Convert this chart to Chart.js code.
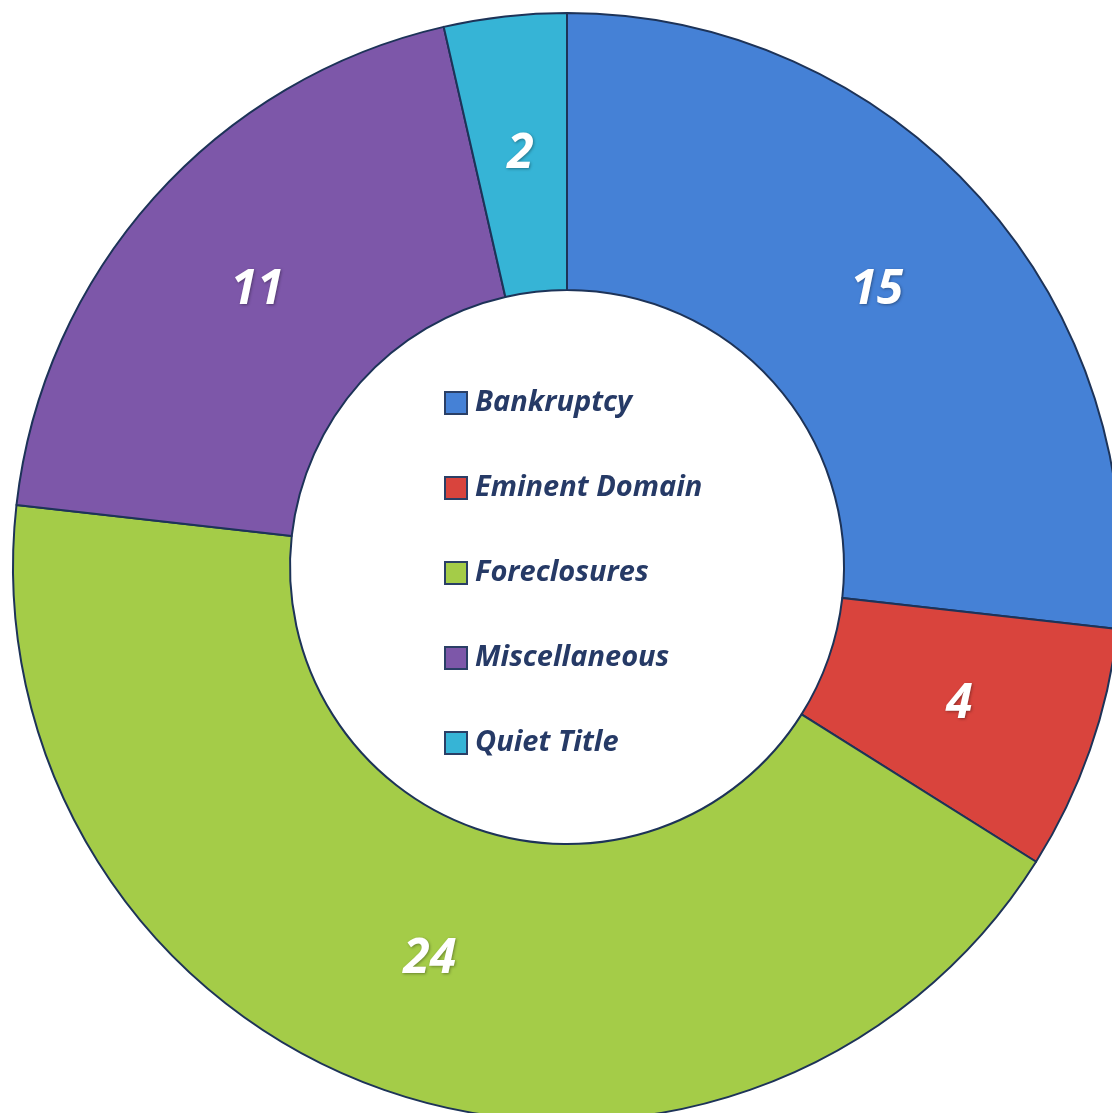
<!DOCTYPE html>
<html>
<head>
<meta charset="utf-8">
<script src="https://cdn.jsdelivr.net/npm/chart.js@4/dist/chart.umd.min.js"></script>
<style>
  html, body { margin: 0; padding: 0; background: #fff; overflow: hidden; }
  #wrap { position: absolute; left: 0; top: 0; width: 1134px; height: 1134px; }
</style>
</head>
<body>
<div id="wrap"><canvas id="chart"></canvas></div>
<script>
const categories = ["Bankruptcy", "Eminent Domain", "Foreclosures", "Miscellaneous", "Quiet Title"];
const counts = [15, 4, 24, 11, 2];
const colors = ["#4581d6", "#d9443d", "#a4cc48", "#7d57a9", "#36b4d6"];

// value labels sitting in the middle of each ring segment
const sliceLabels = {
  id: "sliceLabels",
  afterDatasetsDraw(chart) {
    const ctx = chart.ctx;
    const meta = chart.getDatasetMeta(0);
    ctx.save();
    ctx.font = "italic bold 48px 'Open Sans'";
    ctx.fillStyle = "#ffffff";
    ctx.textAlign = "center";
    ctx.textBaseline = "middle";
    ctx.shadowColor = "rgba(0,0,0,0.35)";
    ctx.shadowBlur = 3;
    ctx.shadowOffsetX = 1;
    ctx.shadowOffsetY = 1;
    meta.data.forEach((arc, i) => {
      const p = arc.getCenterPoint();
      ctx.fillText(String(counts[i]), p.x, p.y);
    });
    ctx.restore();
  }
};

// legend drawn inside the hole
const centerLegend = {
  id: "centerLegend",
  afterDraw(chart) {
    const ctx = chart.ctx;
    const arc = chart.getDatasetMeta(0).data[0];
    const cx = arc.x, cy = arc.y;
    const left = cx - 122;
    const step = 85;
    const top = cy - 164;
    ctx.save();
    ctx.font = "italic bold 29px 'Open Sans'";
    ctx.textBaseline = "middle";
    categories.forEach((name, i) => {
      const y = top + i * step;
      ctx.fillStyle = colors[i];
      ctx.fillRect(left, y - 11, 22, 22);
      ctx.strokeStyle = "#2a3f66";
      ctx.lineWidth = 2;
      ctx.strokeRect(left, y - 11, 22, 22);
      ctx.fillStyle = "#263a66";
      ctx.fillText(name, left + 30, y);
    });
    ctx.restore();
  }
};

new Chart(document.getElementById("chart").getContext("2d"), {
  type: "doughnut",
  data: {
    labels: categories,
    datasets: [{
      data: counts,
      backgroundColor: colors,
      borderColor: "#1d3358",
      borderWidth: 2,
      borderJoinStyle: "round"
    }]
  },
  options: {
    animation: false,
    responsive: true,
    maintainAspectRatio: false,
    cutout: "50%",
    layout: { padding: 12 },
    plugins: {
      legend: { display: false },
      tooltip: { enabled: false }
    }
  },
  plugins: [sliceLabels, centerLegend]
});
</script>
</body>
</html>
